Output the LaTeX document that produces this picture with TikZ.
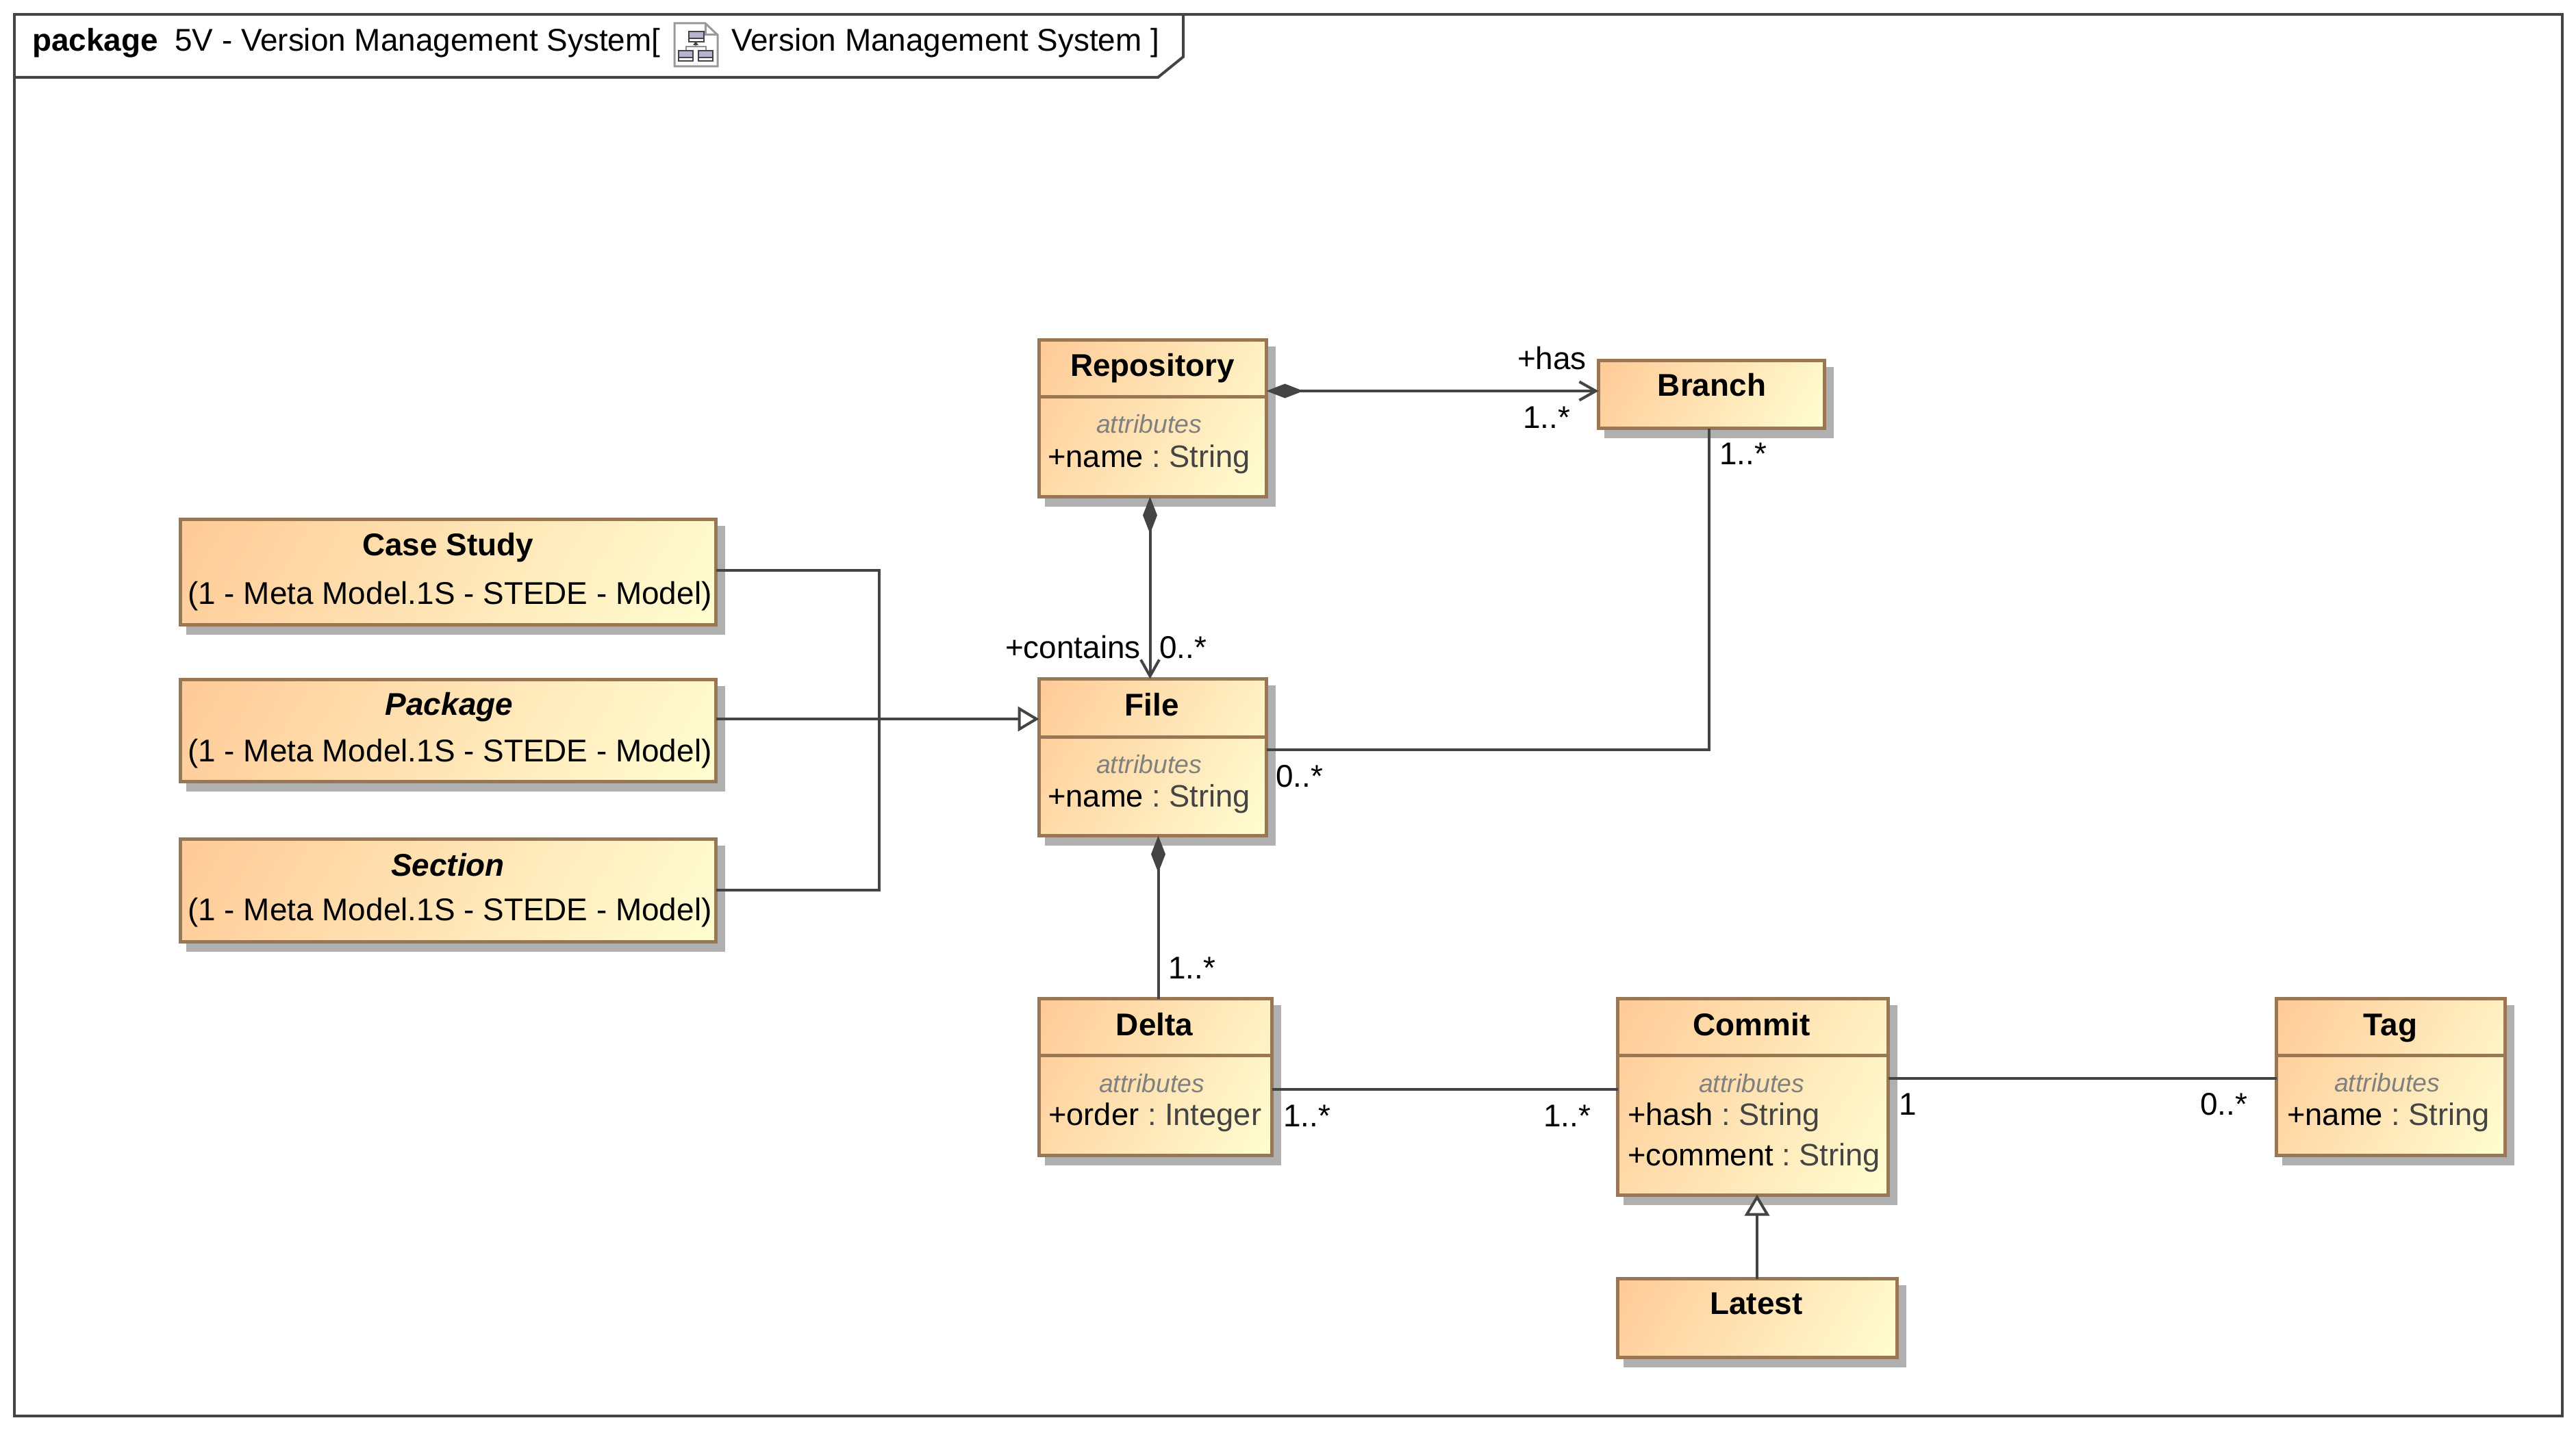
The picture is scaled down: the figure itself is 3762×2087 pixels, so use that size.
\documentclass[tikz,border=0pt]{standalone}
\usepackage{fontspec}
\setmainfont{Liberation Sans}
\usepackage{tikz}
\usetikzlibrary{arrows.meta, calc, positioning, shadows}
\definecolor{umlorange}{RGB}{255, 204, 153}
\definecolor{umlcream}{RGB}{255, 252, 208}
\definecolor{umlborder}{RGB}{153, 119, 85}
\definecolor{umlshadow}{RGB}{176, 176, 176}
\definecolor{umlline}{RGB}{68, 68, 68}
\definecolor{umlgrey}{RGB}{128, 128, 128}
\definecolor{umllavender}{RGB}{180, 180, 208}
\pgfdeclarehorizontalshading{umlgradient}{100bp}{color(0bp)=(umlorange); color(18bp)=(umlorange); color(82bp)=(umlcream); color(100bp)=(umlcream)}
\newcommand{\attrtext}[2]{#1 {\color{umlline}: #2}}

\begin{document}
\frenchspacing
\begin{tikzpicture}[
		x=1pt, y=-1pt,
		texts/.style = {text=black, inner sep=0pt, font=\fontsize{45.9}{55}\selectfont},
		nametext/.style = {texts, anchor=base, font=\fontsize{45.9}{55}\selectfont\bfseries},
		abstracttext/.style = {nametext, font=\fontsize{45.9}{55}\selectfont\bfseries\itshape},
		attrhead/.style = {texts, anchor=base, text=umlgrey, font=\fontsize{37.4}{45}\selectfont\itshape},
		attrline/.style = {texts, anchor=base west, font=\fontsize{45.3}{55}\selectfont},
		multtext/.style = {texts, anchor=base west},
		umlclass/.style = {draw=umlborder, line width=5pt, inner sep=0pt, outer sep=0pt, anchor=north west,
			xshift=1.5pt, yshift=-1.5pt,
			shading=umlgradient, shading angle=-30,
			drop shadow={shadow xshift=11pt, shadow yshift=-12pt, draw=umlshadow, fill=umlshadow, opacity=1}},
		divider/.style = {draw=umlborder, line width=5pt},
		assoc/.style = {draw=umlline, line width=4pt},
		frameline/.style = {draw=umlline, line width=4pt},
		iconbox/.style = {draw=umlline, fill=umllavender, line width=2pt},
		composition/.style = {assoc, {Diamond[length=54pt, width=21pt, fill=umlline]}-{Straight Barb[length=24pt, width=27pt, line width=4pt]}},
		compositionplain/.style = {assoc, {Diamond[length=54pt, width=21pt, fill=umlline]}-},
		generalize/.style = {assoc, -{Triangle[open, length=31pt, width=36pt, fill=white, line width=4pt]}}
		]
		\useasboundingbox (0,0) rectangle (3762,2087);
		
		\node [frameline, draw, inner sep=0pt, outer sep=0pt, anchor=north west, minimum width=3721pt, minimum height=2047pt] (frame) at (21,21) {};
		\coordinate (tabbottom) at (21,113);
		\coordinate (tabcut) at (1691,113);
		\coordinate (tabright) at (1728,83);
		\coordinate (tabtop) at (1728,21);
		\draw[frameline] (tabbottom) -- (tabcut) -- (tabright) -- (tabtop);
		
		\node [nametext, anchor=base west] (titlekind) at (47,75) {package};
		\node [texts, anchor=base west] (titlename) at (255,75) {5V - Version Management System[};
		\node [texts, anchor=base west] (titlediagram) at (1068,75) {Version Management System ]};
		
		% diagram icon
		\draw[draw=umlgrey!80!white, fill=white, line width=3pt] (985,34) -- (1030,34) -- (1048,51) -- (1048,97) -- (985,97) -- cycle;
		\draw[draw=umlgrey!80!white, line width=3pt] (1030,34) -- (1030,51) -- (1048,51);
		\draw[draw=umlline!60!white, line width=1.5pt] (1016,61) -- (1016,68) (1002,74) -- (1002,68) -- (1031,68) -- (1031,74);
		\foreach \iconx/\icony/\iconw in {1006/46/22, 991/74/21, 1020/74/21} {
			\draw[iconbox] (\iconx,\icony) rectangle +(\iconw,15);
			\draw[draw=umlline, fill=white, line width=1.5pt] (\iconx,\icony+10) rectangle +(\iconw,5);
		}
		\fill[umlline] (1012,66) -- (1016,60) -- (1020,66) -- cycle;
		
		\node [umlclass, minimum width=332pt, minimum height=229pt] (repository) at (1516,495) {};
		\node [umlclass, minimum width=330pt, minimum height=99pt] (branch) at (2333,525) {};
		\node [umlclass, minimum width=332pt, minimum height=229pt] (file) at (1516,990) {};
		\node [umlclass, minimum width=340pt, minimum height=229pt] (delta) at (1516,1457) {};
		\node [umlclass, minimum width=395pt, minimum height=287pt] (commit) at (2361,1457) {};
		\node [umlclass, minimum width=334pt, minimum height=229pt] (tag) at (3323,1457) {};
		\node [umlclass, minimum width=408pt, minimum height=115pt] (latest) at (2361,1866) {};
		\node [umlclass, minimum width=782pt, minimum height=154pt] (casestudy) at (262,757) {};
		\node [umlclass, minimum width=782pt, minimum height=149pt] (package) at (262,991) {};
		\node [umlclass, minimum width=782pt, minimum height=150pt] (section) at (262,1224) {};
		
		\draw[divider] (repository.west |- 0,579) -- (repository.east |- 0,579);
		\draw[divider] (file.west |- 0,1076) -- (file.east |- 0,1076);
		\draw[divider] (delta.west |- 0,1541) -- (delta.east |- 0,1541);
		\draw[divider] (commit.west |- 0,1541) -- (commit.east |- 0,1541);
		\draw[divider] (tag.west |- 0,1541) -- (tag.east |- 0,1541);
		
		\node [nametext] (repositoryname) at (1683,549) {Repository};
		\node [attrhead] (repositoryattr) at (1678,632) {attributes};
		\node [attrline] (repositoryfield) at (1530,682) {\attrtext{+name}{String}};
		
		\node [nametext] (branchname) at (2500,578) {Branch};
		
		\node [nametext] (filename) at (1682,1045) {File};
		\node [attrhead] (fileattr) at (1678,1129) {attributes};
		\node [attrline] (filefield) at (1530,1178) {\attrtext{+name}{String}};
		
		\node [nametext] (deltaname) at (1686,1512) {Delta};
		\node [attrhead] (deltaattr) at (1682,1595) {attributes};
		\node [attrline] (deltafield) at (1531,1643) {\attrtext{+order}{Integer}};
		
		\node [nametext] (commitname) at (2558,1512) {Commit};
		\node [attrhead] (commitattr) at (2558,1595) {attributes};
		\node [attrline] (commitfield) at (2377,1643) {\attrtext{+hash}{String}};
		\node [attrline] (commitnote) at (2377,1702) {\attrtext{+comment}{String}};
		
		\node [nametext] (tagname) at (3491,1512) {Tag};
		\node [attrhead] (tagattr) at (3486,1594) {attributes};
		\node [attrline] (tagfield) at (3340,1643) {\attrtext{+name}{String}};
		
		\node [nametext] (latestname) at (2565,1919) {Latest};
		
		\node [nametext] (casename) at (654,811) {Case Study};
		\node [texts, anchor=base] (caseorigin) at (657,882) {(1 - Meta Model.1S - STEDE - Model)};
		\node [abstracttext] (packagename) at (656,1044) {Package};
		\node [texts, anchor=base] (packageorigin) at (657,1112) {(1 - Meta Model.1S - STEDE - Model)};
		\node [abstracttext] (sectionname) at (654,1279) {Section};
		\node [texts, anchor=base] (sectionorigin) at (657,1344) {(1 - Meta Model.1S - STEDE - Model)};
		
		\coordinate (casejoint) at (1284,833);
		\coordinate (sectionjoint) at (1284,1300);
		\coordinate (branchjoint) at (2496,1095);
		
		\draw[composition] ($ (repository.east) + (0,-40) $) -- ($ (branch.west) + (0,-5) $);
		\draw[composition] ($ (repository.south) + (-4,0) $) -- ($ (file.north) + (-4,0) $);
		\draw[compositionplain] ($ (file.south) + (8,0) $) -- ($ (delta.north) + (4,0) $);
		\draw[assoc] (file.east |- branchjoint) -- (branchjoint) -- (branchjoint |- branch.south);
		\draw[assoc] ($ (delta.east) + (0,18) $) -- ($ (delta.east -| commit.west) + (0,18) $);
		\draw[assoc] (commit.east |- 0,1575) -- (tag.west |- 0,1575);
		\draw[generalize] (latest.north -| commit.south) ++(6,0) -- ++(0,-123);
		\draw[assoc] (casestudy.east |- casejoint) -- (casejoint) -- (sectionjoint) -- (section.east |- sectionjoint);
		\draw[generalize] (package.east |- 0,1050) -- (file.west |- 0,1050);
		
		\node [multtext, anchor=base east] (hasrole) at (2317,539) {+has};
		\node [multtext] (hasmult) at (2224,625) {1..*};
		\node [multtext] (branchmult) at (2511,678) {1..*};
		\node [multtext, anchor=base east] (containsrole) at (1666,961) {+contains};
		\node [multtext] (containsmult) at (1693,961) {0..*};
		\node [multtext] (filemult) at (1863,1149) {0..*};
		\node [multtext] (deltaupmult) at (1706,1429) {1..*};
		\node [multtext] (deltamult) at (1874,1645) {1..*};
		\node [multtext] (commitmult) at (2254,1645) {1..*};
		\node [multtext] (commitonemult) at (2773,1628) {1};
		\node [multtext] (tagmult) at (3213,1628) {0..*};
		\end{tikzpicture}
\end{document}
